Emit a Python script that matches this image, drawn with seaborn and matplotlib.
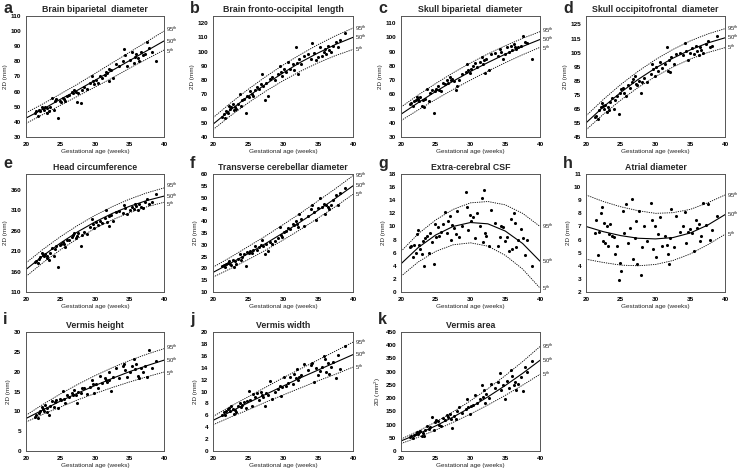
import numpy as np
import pandas as pd
import matplotlib
matplotlib.use("Agg")
import matplotlib.pyplot as plt
import seaborn as sns

# ---------------- data ----------------
ages = [21.3, 21.5, 21.7, 21.9, 22.1, 22.3, 22.4, 22.6, 22.8, 23.0,
        23.1, 23.3, 23.5, 23.8, 24.0, 24.2, 24.4, 24.7, 24.9, 25.1,
        25.3, 25.5, 25.7, 26.0, 26.3, 26.6, 26.8, 27.0, 27.2, 27.4,
        27.6, 27.9, 28.1, 28.4, 28.8, 29.3, 29.5, 29.7, 29.9, 30.1,
        30.4, 30.7, 31.0, 31.4, 31.6, 31.8, 32.0, 32.1, 32.3, 32.6,
        33.0, 33.5, 34.0, 34.2, 34.4, 34.7, 35.0, 35.3, 35.6, 35.8,
        36.0, 36.2, 36.4, 36.6, 36.9, 37.2, 37.5, 37.8, 38.2, 38.9]

grid = [20, 22.5, 25, 27.5, 30, 32.5, 35, 37.5, 40]

a_pts = [46, 47, 44, 48, 47, 50, 49, 48, 50, 46, 49, 47, 50, 56, 48, 54, 55, 42.5, 54, 53,
         56, 55, 54, 57, 58, 60, 59, 61, 60, 53, 59, 52.5, 61, 63, 62, 66, 70, 67, 65, 68,
         66, 70, 69, 71, 73, 72, 75, 67, 74, 69, 78, 77, 80, 88, 84, 77, 81, 86, 79, 83,
         85, 82, 80, 86, 84, 85, 93, 89, 86, 80.5]
a_p95 = [46, 52, 58.5, 65, 72, 79, 86, 93, 100]
a_p50 = [42.5, 48.5, 55, 61, 67.5, 74, 80.5, 87, 93.5]
a_p5 = [39, 45, 51, 57, 63, 69, 75.5, 81.5, 87.5]

b_pts = [54, 56, 53, 58, 57, 62, 60, 61, 63, 59, 61, 60, 63, 70, 62, 66, 67, 57, 69, 68,
         72, 70, 69, 73, 75, 74, 77, 84, 76, 66, 78, 69, 81, 82, 80, 84, 90, 86, 83, 88,
         86, 93, 88, 91, 87, 103, 92, 84, 95, 91, 97, 98, 95, 106, 99, 94, 96, 103, 97, 100,
         102, 98, 104, 101, 100, 104, 107, 103, 108, 113]
b_p95 = [53.5, 63.8, 73.4, 82.3, 90.5, 98, 104.9, 111.1, 116.5]
b_p50 = [49, 59, 68.5, 77, 85, 92.5, 99, 105, 110]
b_p5 = [45.2, 54.9, 63.9, 72.1, 79.5, 86.2, 92.1, 97.2, 101.5]

c_pts = [53, 54, 52, 55, 56, 58, 57, 55, 58, 52, 56, 51, 57, 64, 55, 61, 63, 47, 62, 64,
         66, 63, 62, 68, 67, 70, 68, 72, 70, 71, 69, 63, 66, 70, 74, 76, 81, 77, 75, 78,
         80, 82, 79, 83, 86, 81, 84, 75, 85, 77, 88, 89, 87, 92, 90, 85, 88, 93, 90, 94,
         91, 95, 93, 92, 93, 94, 101, 97, 96, 85]
c_p95 = [51, 59.6, 67.6, 75.1, 82, 88.4, 94.1, 99.3, 104]
c_p50 = [46, 54.2, 62, 69.2, 76, 82.3, 88.2, 93.6, 98.5]
c_p5 = [41.5, 49.1, 56.4, 63.4, 70, 76.3, 82.2, 87.8, 93]

d_pts = [59, 60, 58, 64, 66, 69, 67, 65, 68, 63, 66, 64, 70, 73, 65, 71, 74, 61, 76, 79,
         80, 76, 74, 82, 80, 84, 86, 88, 83, 82, 85, 76, 84, 87, 84, 90, 97, 93, 88, 95,
         92, 98, 94, 97, 109, 92, 100, 91, 102, 97, 104, 105, 103, 112, 106, 100, 105, 108, 104, 110,
         106, 103, 109, 107, 105, 111, 113, 109, 110, 117]
d_p95 = [60, 71.7, 82.3, 91.7, 100, 107.2, 113.3, 118.2, 122]
d_p50 = [55, 66.4, 76.7, 85.9, 94, 101, 106.9, 111.8, 115.5]
d_p5 = [50, 61.2, 71.2, 80.2, 88, 94.7, 100.4, 105, 108.5]

e_pts = [183, 186, 180, 191, 195, 204, 200, 198, 203, 192, 199, 187, 205, 218, 198, 215, 222, 172, 224, 227,
         232, 226, 221, 238, 236, 244, 250, 255, 242, 247, 253, 222, 248, 257, 252, 268, 288, 275, 266, 280,
         274, 284, 279, 290, 310, 282, 296, 272, 299, 283, 305, 308, 303, 322, 315, 300, 310, 318, 312, 325,
         320, 310, 326, 318, 315, 330, 338, 324, 330, 348]
e_p95 = [181, 214.6, 245.1, 272.6, 297, 318.3, 336.6, 351.9, 364]
e_p50 = [165, 198.9, 229.6, 257, 281, 301.7, 319.1, 333.2, 344]
e_p5 = [148, 182.2, 213.1, 240.7, 265, 286, 303.6, 317.9, 329]

f_pts = [21, 21.5, 20.5, 22, 22.5, 23, 22, 21.5, 23.5, 20.5, 23, 22, 24, 26, 23.5, 25, 26, 21, 27, 26.5,
         27.5, 26.5, 28, 29.5, 28, 29, 30, 32, 29.5, 26, 30.5, 27.5, 31, 30.5, 31.5, 33, 37.5, 34, 33.5, 35.5,
         36, 37, 36.5, 39, 38.5, 40, 39, 37.5, 43, 41, 38, 42, 45, 47, 44, 40.5, 45.5, 50, 46, 47.5,
         43, 47, 46, 45, 47, 49, 51, 47, 52, 54]
f_p95 = [20.5, 24.7, 29.2, 33.7, 38.5, 43.4, 48.6, 53.8, 59.3]
f_p50 = [18.3, 22.2, 26.2, 30.5, 35, 39.7, 44.6, 49.7, 55]
f_p5 = [16.3, 19.9, 23.7, 27.7, 32, 36.5, 41.3, 46.2, 51.4]

g_pts = [6.8, 7.0, 5.4, 7.2, 6.0, 8.8, 9.4, 7.2, 6.5, 5.8, 7.8, 4.0, 8.2, 8.6, 6.0, 9.0, 7.6, 4.3, 10.4, 8.4,
         9.9, 8.6, 9.2, 10.4, 12.2, 9.0, 10.8, 11.6, 8.0, 10.2, 9.7, 8.8, 12.3, 8.4, 10.0, 15.2, 13.0, 9.4, 11.8, 10.8,
         11.5, 8.2, 12.0, 10.1, 14.3, 7.6, 15.6, 9.0, 8.6, 7.0, 12.5, 10.5, 7.0, 8.4, 10.0, 9.9, 7.8, 8.4, 6.3, 11.2,
         6.5, 12.0, 10.6, 6.8, 8.0, 9.6, 8.3, 5.6, 7.9, 4.0]
g_p95 = [6.2, 8.9, 11.0, 12.6, 13.6, 13.8, 13.3, 12.0, 10.0]
g_p50 = [4.3, 6.8, 8.7, 10.0, 10.6, 10.4, 9.3, 7.4, 4.7]
g_p5 = [2.4, 4.6, 6.2, 7.2, 7.5, 7.0, 5.6, 3.5, 0.6]

h_pts = [6.5, 7.5, 4.8, 6.6, 8.0, 8.5, 5.9, 7.3, 5.7, 7.0, 5.5, 6.4, 7.2, 6.3, 6.2, 4.9, 5.5, 2.9, 4.2, 3.6,
         8.2, 6.5, 8.7, 5.7, 6.9, 9.1, 4.5, 6.1, 7.4, 4.1, 8.2, 3.3, 5.4, 7.0, 5.9, 8.8, 7.5, 5.3, 7.0, 4.7,
         6.4, 7.7, 5.5, 6.3, 5.6, 4.9, 4.1, 6.1, 8.3, 5.4, 7.8, 6.6, 7.0, 8.1, 5.7, 6.6, 6.8, 6.5, 5.1, 7.5,
         6.9, 7.2, 5.9, 6.3, 8.8, 7.1, 8.7, 6.0, 6.7, 7.8]
h_p95 = [9.4, 8.9, 8.5, 8.2, 8.0, 8.05, 8.3, 8.8, 9.4]
h_p50 = [7.0, 6.6, 6.3, 6.1, 6.05, 6.15, 6.5, 7.1, 7.9]
h_p5 = [4.5, 4.25, 4.05, 4.0, 4.1, 4.4, 4.9, 5.6, 6.4]

i_pts = [8.6, 9.2, 8.4, 9.6, 10.0, 11.0, 10.5, 10.2, 11.5, 9.8, 10.8, 9.2, 11.3, 12.6, 11.0, 12.4, 12.9, 10.8, 13.2, 12.8,
         15.2, 13.0, 12.0, 14.0, 13.6, 14.5, 14.0, 15.5, 14.2, 12.0, 15.0, 14.6, 15.8, 16.0, 14.3, 16.2, 18.0, 16.9, 14.6, 17.0,
         16.0, 19.0, 17.2, 18.4, 18.0, 17.5, 20.0, 18.0, 15.1, 18.6, 21.0, 18.5, 21.5, 22.0, 20.5, 18.6, 19.8, 21.5, 23.3, 20.7,
         22.0, 19.0, 18.5, 21.0, 20.0, 21.5, 18.6, 25.4, 20.8, 22.7]
i_p95 = [9.0, 11.8, 14.4, 16.8, 19.0, 21.0, 22.8, 24.4, 25.8]
i_p50 = [8.2, 10.4, 12.6, 14.6, 16.5, 18.3, 20.0, 21.5, 22.9]
i_p5 = [7.3, 9.3, 11.1, 12.9, 14.5, 16.0, 17.4, 18.7, 19.9]

j_pts = [6.0, 6.5, 6.1, 6.8, 7.0, 7.3, 6.7, 7.6, 7.1, 6.3, 6.9, 6.5, 7.5, 8.0, 7.4, 7.8, 8.2, 7.3, 8.4, 10.1,
         8.6, 7.6, 9.5, 9.1, 9.8, 8.5, 10.0, 9.4, 9.0, 7.5, 9.8, 9.4, 11.8, 8.8, 10.0, 10.5, 11.0, 9.3, 10.8, 12.4,
         11.0, 11.5, 12.5, 11.2, 13.0, 12.2, 13.8, 12.0, 12.4, 12.8, 14.7, 13.6, 14.5, 14.8, 11.6, 13.9, 12.8, 13.5, 14.2, 16.0,
         15.5, 13.2, 14.8, 13.0, 14.2, 15.0, 12.2, 16.2, 13.8, 17.7]
j_p95 = [5.8, 7.5, 9.1, 10.7, 12.3, 13.8, 15.3, 16.8, 18.3]
j_p50 = [5.15, 6.6, 8.1, 9.5, 10.9, 12.3, 13.6, 14.9, 16.2]
j_p5 = [4.4, 5.7, 6.9, 8.2, 9.4, 10.6, 11.8, 12.9, 14.1]

k_pts = [52, 58, 48, 62, 66, 72, 64, 70, 75, 56, 68, 55, 80, 96, 82, 92, 130, 78, 108, 118,
         112, 100, 95, 125, 118, 135, 128, 140, 122, 88, 132, 120, 150, 168, 145, 160, 198, 165, 140, 170,
         175, 210, 180, 195, 250, 205, 230, 180, 215, 200, 255, 240, 262, 295, 230, 250, 196, 265, 240, 305,
         285, 250, 260, 230, 255, 280, 228, 318, 300, 340]
k_p95 = [45, 75.6, 110, 148.1, 190, 235.6, 285, 338.1, 395]
k_p50 = [38, 65, 95.1, 128.4, 165, 204.7, 247.6, 293.7, 343]
k_p5 = [28, 52.4, 79.3, 108.4, 140, 173.9, 210.3, 249, 290]

letters = ["a", "b", "c", "d", "e", "f", "g", "h", "i", "j", "k"]
titles = ["Brain biparietal  diameter", "Brain fronto-occipital  length", "Skull biparietal  diameter",
          "Skull occipitofrontal  diameter", "Head circumference", "Transverse cerebellar diameter",
          "Extra-cerebral CSF", "Atrial diameter", "Vermis height", "Vermis width", "Vermis area"]
ylabels = ["2D (mm)"] * 10 + ["2D (mm$^2$)"]
pct_labels = ["95$^{th}$", "50$^{th}$", "5$^{th}$"]

# ---------------- figure ----------------
sns.set_theme(style="white")
plt.rcParams['font.family'] = ['Liberation Sans', 'DejaVu Sans']
plt.rcParams['mathtext.fontset'] = 'custom'
plt.rcParams['mathtext.rm'] = 'Liberation Sans'
plt.rcParams['mathtext.it'] = 'Liberation Sans'

W, H = 738, 469
fig = plt.figure(figsize=(W / 100, H / 100), dpi=100)
fig.patch.set_facecolor("white")

cols = [(26, 164), (213, 353), (401, 540), (586, 725)]
rows = [(16, 137), (174, 292), (332, 451)]
letter_base = [3, 6, 8]   # baseline offset (px) of panel letters above axes top, per row

panels = [
    (a_pts, a_p95, a_p50, a_p5, (30, 110), np.arange(30, 111, 10)),
    (b_pts, b_p95, b_p50, b_p5, (40, 125), np.arange(40, 121, 10)),
    (c_pts, c_p95, c_p50, c_p5, (30, 115), np.arange(30, 111, 10)),
    (d_pts, d_p95, d_p50, d_p5, (45, 131), np.arange(45, 126, 10)),
    (e_pts, e_p95, e_p50, e_p5, (110, 398), np.arange(110, 361, 50)),
    (f_pts, f_p95, f_p50, f_p5, (10, 60), np.arange(10, 61, 5)),
    (g_pts, g_p95, g_p50, g_p5, (0, 18), np.arange(0, 19, 2)),
    (h_pts, h_p95, h_p50, h_p5, (2, 11), np.arange(2, 12, 1)),
    (i_pts, i_p95, i_p50, i_p5, (0, 30), np.arange(0, 31, 5)),
    (j_pts, j_p95, j_p50, j_p5, (0, 20), np.arange(0, 21, 2)),
    (k_pts, k_p95, k_p50, k_p5, (0, 450), np.arange(0, 451, 50)),
]
# small vertical nudges (points) for crowded percentile labels
label_nudge = {4: (2.0, 0.0, -1.5), 0: (1.0, 0, -1.0), 2: (1.0, 0, -1.0), 8: (1.0, 0, -1.0)}

for idx, (pts, p95, p50, p5, ylim, yticks) in enumerate(panels):
    r, c = divmod(idx, 4)
    l, rr = cols[c]
    t, b = rows[r]
    ax = fig.add_axes([l / W, 1 - b / H, (rr - l) / W, (b - t) / H])
    df = pd.DataFrame({"age": ages, "val": pts})
    sns.scatterplot(data=df, x="age", y="val", ax=ax, color="black", s=5,
                    linewidth=0, marker="o", zorder=3)
    sns.lineplot(x=grid, y=p95, ax=ax, color="black", lw=0.6, linestyle=(0, (1.5, 1.2)))
    sns.lineplot(x=grid, y=p50, ax=ax, color="black", lw=0.8)
    sns.lineplot(x=grid, y=p5, ax=ax, color="black", lw=0.6, linestyle=(0, (1.5, 1.2)))
    ax.set_xlim(20, 40)
    ax.set_ylim(*ylim)
    ax.set_xticks([20, 25, 30, 35, 40])
    ax.set_yticks(yticks)
    ax.tick_params(axis="both", labelsize=4.6, length=2, width=0.5, pad=1.5,
                   direction="out", colors="black")
    for lab in ax.get_xticklabels() + ax.get_yticklabels():
        lab.set_fontweight("bold")
    for s in ax.spines.values():
        s.set_color("#555555")
        s.set_linewidth(0.7)
    ax.set_xlabel("Gestational age (weeks)", fontsize=4.6, labelpad=1.5)
    ax.set_ylabel(ylabels[idx], fontsize=4.6, labelpad=2)
    ax.set_title(titles[idx], fontsize=6.3, fontweight="bold", pad=3)
    nud = label_nudge.get(idx, (0, 0, 0))
    for val, lab, dy in zip([p95[-1], p50[-1], p5[-1]], pct_labels, nud):
        ax.annotate(lab, xy=(40, val), xytext=(1.5, dy), textcoords="offset points",
                    fontsize=4.2, va="center", ha="left", annotation_clip=False)
    fig.text((l - 23) / W, 1 - (t - letter_base[r]) / H, letters[idx], fontsize=11.5,
             fontweight="bold", ha="left", va="baseline")

fig.savefig("out.png", dpi=100, facecolor="white")
